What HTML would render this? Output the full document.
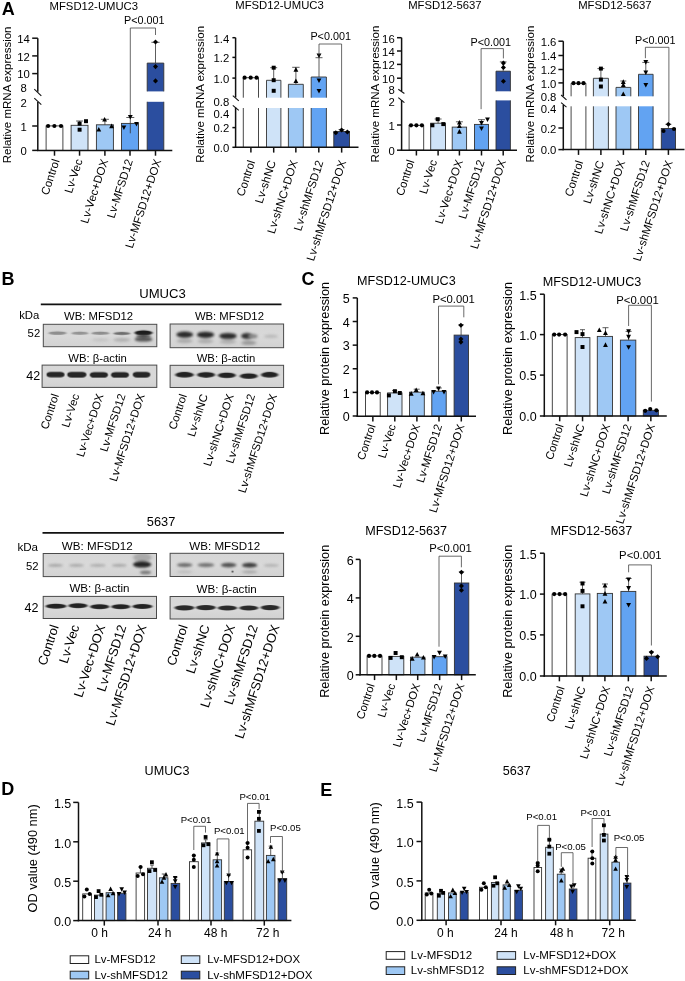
<!DOCTYPE html>
<html><head><meta charset="utf-8"><title>Figure</title>
<style>html,body{margin:0;padding:0;background:#fff;}svg{display:block;will-change:transform;}</style>
</head><body>
<svg width="685" height="981" viewBox="0 0 685 981" font-family='"Liberation Sans", sans-serif'>
<rect width="685" height="981" fill="#fff"/>
<text x="1.80" y="15.10" font-size="18" font-weight="bold">A</text>
<text x="1.50" y="284.90" font-size="18" font-weight="bold">B</text>
<text x="301.50" y="284.90" font-size="18" font-weight="bold">C</text>
<text x="1.30" y="794.90" font-size="18" font-weight="bold">D</text>
<text x="320.20" y="795.60" font-size="18" font-weight="bold">E</text>
<rect x="46.10" y="125.90" width="16.80" height="24.50" fill="#ffffff" stroke="#333" stroke-width="0.9"/>
<rect x="71.10" y="125.30" width="16.90" height="25.10" fill="#cfe3f8" stroke="#333" stroke-width="0.9"/>
<rect x="96.40" y="124.80" width="17.00" height="25.60" fill="#9ec8f4" stroke="#333" stroke-width="0.9"/>
<rect x="121.50" y="123.40" width="17.00" height="27.00" fill="#62a3f2" stroke="#333" stroke-width="0.9"/>
<rect x="147.20" y="63.10" width="16.60" height="28.30" fill="#2b4e9f"/>
<rect x="147.20" y="101.80" width="16.60" height="48.60" fill="#2b4e9f"/>
<polyline points="147.20,91.40 147.20,63.10 163.80,63.10 163.80,91.40" fill="none" stroke="#333" stroke-width="0.9"/>
<polyline points="147.20,101.80 147.20,150.40" fill="none" stroke="#333" stroke-width="0.9"/>
<polyline points="163.80,101.80 163.80,150.40" fill="none" stroke="#333" stroke-width="0.9"/>
<line x1="79.60" y1="125.30" x2="79.60" y2="121.00" stroke="#333" stroke-width="0.8"/>
<line x1="76.10" y1="121.00" x2="83.10" y2="121.00" stroke="#333" stroke-width="0.8"/>
<line x1="104.90" y1="124.80" x2="104.90" y2="119.30" stroke="#333" stroke-width="0.8"/>
<line x1="100.90" y1="119.30" x2="108.90" y2="119.30" stroke="#333" stroke-width="0.8"/>
<line x1="130.30" y1="133.30" x2="130.30" y2="117.50" stroke="#333" stroke-width="0.8"/>
<line x1="126.30" y1="117.50" x2="134.30" y2="117.50" stroke="#333" stroke-width="0.8"/>
<line x1="155.50" y1="63.10" x2="155.50" y2="42.30" stroke="#333" stroke-width="0.8"/>
<line x1="151.40" y1="42.30" x2="159.60" y2="42.30" stroke="#333" stroke-width="0.8"/>
<circle cx="48.10" cy="126.00" r="2.09" fill="#000"/>
<circle cx="54.40" cy="126.00" r="2.09" fill="#000"/>
<circle cx="61.00" cy="126.00" r="2.09" fill="#000"/>
<rect x="77.62" y="121.62" width="3.96" height="3.96" fill="#000"/>
<rect x="77.62" y="127.72" width="3.96" height="3.96" fill="#000"/>
<rect x="84.02" y="119.22" width="3.96" height="3.96" fill="#000"/>
<polygon points="96.38,131.51 101.22,131.51 98.80,126.89" fill="#000"/>
<polygon points="102.18,121.61 107.02,121.61 104.60,116.99" fill="#000"/>
<polygon points="109.18,128.21 114.02,128.21 111.60,123.59" fill="#000"/>
<polygon points="121.48,125.49 126.32,125.49 123.90,130.11" fill="#000"/>
<polygon points="127.88,114.99 132.72,114.99 130.30,119.61" fill="#000"/>
<polygon points="134.08,121.89 138.92,121.89 136.50,126.51" fill="#000"/>
<polygon points="155.50,39.47 158.03,42.00 155.50,44.53 152.97,42.00" fill="#000"/>
<polygon points="155.50,64.07 158.03,66.60 155.50,69.13 152.97,66.60" fill="#000"/>
<polygon points="155.50,78.37 158.03,80.90 155.50,83.43 152.97,80.90" fill="#000"/>
<line x1="37.80" y1="38.20" x2="37.80" y2="91.80" stroke="#111" stroke-width="1.5"/>
<line x1="37.80" y1="102.00" x2="37.80" y2="151.05" stroke="#111" stroke-width="1.5"/>
<line x1="34.30" y1="89.20" x2="41.30" y2="95.80" stroke="#111" stroke-width="1.1"/>
<line x1="34.30" y1="98.20" x2="41.30" y2="104.60" stroke="#111" stroke-width="1.1"/>
<line x1="37.05" y1="150.40" x2="172.30" y2="150.40" stroke="#111" stroke-width="1.5"/>
<line x1="32.20" y1="38.20" x2="37.80" y2="38.20" stroke="#111" stroke-width="1.5"/>
<text x="23.60" y="43.07" font-size="11.3" text-anchor="middle">14</text>
<line x1="32.20" y1="55.90" x2="37.80" y2="55.90" stroke="#111" stroke-width="1.5"/>
<text x="23.60" y="60.77" font-size="11.3" text-anchor="middle">12</text>
<line x1="32.20" y1="73.60" x2="37.80" y2="73.60" stroke="#111" stroke-width="1.5"/>
<text x="23.60" y="78.47" font-size="11.3" text-anchor="middle">10</text>
<text x="23.60" y="91.87" font-size="11.3" text-anchor="middle">8</text>
<text x="23.60" y="106.87" font-size="11.3" text-anchor="middle">2</text>
<line x1="32.20" y1="126.00" x2="37.80" y2="126.00" stroke="#111" stroke-width="1.5"/>
<text x="23.60" y="130.87" font-size="11.3" text-anchor="middle">1</text>
<line x1="32.20" y1="150.40" x2="37.80" y2="150.40" stroke="#111" stroke-width="1.5"/>
<text x="23.60" y="155.27" font-size="11.3" text-anchor="middle">0</text>
<line x1="54.50" y1="150.40" x2="54.50" y2="155.70" stroke="#111" stroke-width="1.5"/>
<line x1="79.55" y1="150.40" x2="79.55" y2="155.70" stroke="#111" stroke-width="1.5"/>
<line x1="104.90" y1="150.40" x2="104.90" y2="155.70" stroke="#111" stroke-width="1.5"/>
<line x1="130.00" y1="150.40" x2="130.00" y2="155.70" stroke="#111" stroke-width="1.5"/>
<line x1="155.50" y1="150.40" x2="155.50" y2="155.70" stroke="#111" stroke-width="1.5"/>
<polyline points="130.30,115.00 130.30,28.00 155.50,28.00 155.50,35.00" fill="none" stroke="#444" stroke-width="0.8"/>
<text x="144.30" y="24.00" font-size="10.8" text-anchor="middle">P&lt;0.001</text>
<text x="93.80" y="9.50" font-size="11.3" text-anchor="middle">MFSD12-UMUC3</text>
<text x="11.00" y="94.90" font-size="11.5" text-anchor="middle" transform="rotate(-90 11.00 94.90)">Relative mRNA expression</text>
<text x="59.70" y="160.60" font-size="11.5" text-anchor="end" transform="rotate(-72 59.70 160.60)">Control</text>
<text x="82.70" y="160.60" font-size="11.5" text-anchor="end" transform="rotate(-72 82.70 160.60)">Lv-Vec</text>
<text x="108.30" y="160.60" font-size="11.5" text-anchor="end" transform="rotate(-72 108.30 160.60)">Lv-Vec+DOX</text>
<text x="133.10" y="160.60" font-size="11.5" text-anchor="end" transform="rotate(-72 133.10 160.60)">Lv-MFSD12</text>
<text x="161.30" y="160.60" font-size="11.5" text-anchor="end" transform="rotate(-72 161.30 160.60)">Lv-MFSD12+DOX</text>
<rect x="243.30" y="77.70" width="15.20" height="20.00" fill="#ffffff"/>
<rect x="243.30" y="108.00" width="15.20" height="39.30" fill="#ffffff"/>
<polyline points="243.30,97.70 243.30,77.70 258.50,77.70 258.50,97.70" fill="none" stroke="#333" stroke-width="0.9"/>
<polyline points="243.30,108.00 243.30,147.30" fill="none" stroke="#333" stroke-width="0.9"/>
<polyline points="258.50,108.00 258.50,147.30" fill="none" stroke="#333" stroke-width="0.9"/>
<rect x="266.50" y="80.30" width="14.40" height="17.40" fill="#cfe3f8"/>
<rect x="266.50" y="108.00" width="14.40" height="39.30" fill="#cfe3f8"/>
<polyline points="266.50,97.70 266.50,80.30 280.90,80.30 280.90,97.70" fill="none" stroke="#333" stroke-width="0.9"/>
<polyline points="266.50,108.00 266.50,147.30" fill="none" stroke="#333" stroke-width="0.9"/>
<polyline points="280.90,108.00 280.90,147.30" fill="none" stroke="#333" stroke-width="0.9"/>
<rect x="288.40" y="84.30" width="14.90" height="13.40" fill="#9ec8f4"/>
<rect x="288.40" y="108.00" width="14.90" height="39.30" fill="#9ec8f4"/>
<polyline points="288.40,97.70 288.40,84.30 303.30,84.30 303.30,97.70" fill="none" stroke="#333" stroke-width="0.9"/>
<polyline points="288.40,108.00 288.40,147.30" fill="none" stroke="#333" stroke-width="0.9"/>
<polyline points="303.30,108.00 303.30,147.30" fill="none" stroke="#333" stroke-width="0.9"/>
<rect x="311.20" y="77.00" width="15.20" height="20.70" fill="#62a3f2"/>
<rect x="311.20" y="108.00" width="15.20" height="39.30" fill="#62a3f2"/>
<polyline points="311.20,97.70 311.20,77.00 326.40,77.00 326.40,97.70" fill="none" stroke="#333" stroke-width="0.9"/>
<polyline points="311.20,108.00 311.20,147.30" fill="none" stroke="#333" stroke-width="0.9"/>
<polyline points="326.40,108.00 326.40,147.30" fill="none" stroke="#333" stroke-width="0.9"/>
<rect x="333.80" y="131.50" width="15.70" height="15.80" fill="#2b4e9f" stroke="#333" stroke-width="0.9"/>
<line x1="273.70" y1="80.30" x2="273.70" y2="67.70" stroke="#333" stroke-width="0.8"/>
<line x1="270.20" y1="67.70" x2="277.20" y2="67.70" stroke="#333" stroke-width="0.8"/>
<line x1="295.90" y1="84.30" x2="295.90" y2="67.30" stroke="#333" stroke-width="0.8"/>
<line x1="292.20" y1="67.30" x2="299.60" y2="67.30" stroke="#333" stroke-width="0.8"/>
<line x1="319.00" y1="77.00" x2="319.00" y2="57.70" stroke="#333" stroke-width="0.8"/>
<line x1="315.50" y1="57.70" x2="322.50" y2="57.70" stroke="#333" stroke-width="0.8"/>
<line x1="341.60" y1="131.50" x2="341.60" y2="129.50" stroke="#333" stroke-width="0.8"/>
<line x1="338.60" y1="129.50" x2="344.60" y2="129.50" stroke="#333" stroke-width="0.8"/>
<circle cx="244.60" cy="77.70" r="2.09" fill="#000"/>
<circle cx="250.70" cy="77.70" r="2.09" fill="#000"/>
<circle cx="256.60" cy="77.70" r="2.09" fill="#000"/>
<rect x="271.72" y="65.72" width="3.96" height="3.96" fill="#000"/>
<rect x="271.72" y="78.22" width="3.96" height="3.96" fill="#000"/>
<rect x="271.72" y="88.82" width="3.96" height="3.96" fill="#000"/>
<polygon points="293.48,71.71 298.32,71.71 295.90,67.09" fill="#000"/>
<polygon points="293.48,83.11 298.32,83.11 295.90,78.49" fill="#000"/>
<polygon points="316.58,53.59 321.42,53.59 319.00,58.21" fill="#000"/>
<polygon points="316.58,78.49 321.42,78.49 319.00,83.11" fill="#000"/>
<polygon points="316.58,88.99 321.42,88.99 319.00,93.61" fill="#000"/>
<polygon points="335.80,130.27 338.33,132.80 335.80,135.33 333.27,132.80" fill="#000"/>
<polygon points="341.60,127.47 344.13,130.00 341.60,132.53 339.07,130.00" fill="#000"/>
<polygon points="347.40,129.47 349.93,132.00 347.40,134.53 344.87,132.00" fill="#000"/>
<line x1="235.60" y1="37.70" x2="235.60" y2="97.50" stroke="#111" stroke-width="1.5"/>
<line x1="235.60" y1="107.50" x2="235.60" y2="147.95" stroke="#111" stroke-width="1.5"/>
<line x1="232.80" y1="95.70" x2="238.80" y2="100.80" stroke="#111" stroke-width="1.1"/>
<line x1="232.80" y1="105.30" x2="238.80" y2="110.40" stroke="#111" stroke-width="1.1"/>
<line x1="234.85" y1="147.30" x2="358.50" y2="147.30" stroke="#111" stroke-width="1.5"/>
<line x1="232.40" y1="37.70" x2="235.60" y2="37.70" stroke="#111" stroke-width="1.5"/>
<text x="229.30" y="42.57" font-size="11.3" text-anchor="end">1.4</text>
<line x1="232.40" y1="57.40" x2="235.60" y2="57.40" stroke="#111" stroke-width="1.5"/>
<text x="229.30" y="62.27" font-size="11.3" text-anchor="end">1.2</text>
<line x1="232.40" y1="78.10" x2="235.60" y2="78.10" stroke="#111" stroke-width="1.5"/>
<text x="229.30" y="82.97" font-size="11.3" text-anchor="end">1.0</text>
<text x="229.30" y="106.07" font-size="11.3" text-anchor="end">0.8</text>
<text x="229.30" y="117.77" font-size="11.3" text-anchor="end">0.4</text>
<line x1="232.40" y1="127.60" x2="235.60" y2="127.60" stroke="#111" stroke-width="1.5"/>
<text x="229.30" y="132.47" font-size="11.3" text-anchor="end">0.2</text>
<line x1="232.40" y1="147.30" x2="235.60" y2="147.30" stroke="#111" stroke-width="1.5"/>
<text x="229.30" y="152.17" font-size="11.3" text-anchor="end">0.0</text>
<line x1="250.90" y1="147.30" x2="250.90" y2="152.60" stroke="#111" stroke-width="1.5"/>
<line x1="273.70" y1="147.30" x2="273.70" y2="152.60" stroke="#111" stroke-width="1.5"/>
<line x1="295.85" y1="147.30" x2="295.85" y2="152.60" stroke="#111" stroke-width="1.5"/>
<line x1="318.80" y1="147.30" x2="318.80" y2="152.60" stroke="#111" stroke-width="1.5"/>
<line x1="341.65" y1="147.30" x2="341.65" y2="152.60" stroke="#111" stroke-width="1.5"/>
<polyline points="319.00,55.40 319.00,44.00 341.60,44.00 341.60,128.00" fill="none" stroke="#444" stroke-width="0.8"/>
<text x="330.70" y="39.60" font-size="10.8" text-anchor="middle">P&lt;0.001</text>
<text x="279.50" y="9.40" font-size="11.3" text-anchor="middle">MFSD12-UMUC3</text>
<text x="204.20" y="94.30" font-size="11.5" text-anchor="middle" transform="rotate(-90 204.20 94.30)">Relative mRNA expression</text>
<text x="255.30" y="161.80" font-size="11.5" text-anchor="end" transform="rotate(-72 255.30 161.80)">Control</text>
<text x="276.10" y="161.80" font-size="11.5" text-anchor="end" transform="rotate(-72 276.10 161.80)">Lv-shNC</text>
<text x="298.00" y="161.80" font-size="11.5" text-anchor="end" transform="rotate(-72 298.00 161.80)">Lv-shNC+DOX</text>
<text x="323.60" y="161.80" font-size="11.5" text-anchor="end" transform="rotate(-72 323.60 161.80)">Lv-shMFSD12</text>
<text x="346.30" y="161.80" font-size="11.5" text-anchor="end" transform="rotate(-72 346.30 161.80)">Lv-shMFSD12+DOX</text>
<rect x="409.10" y="125.30" width="14.60" height="24.90" fill="#ffffff" stroke="#333" stroke-width="0.9"/>
<rect x="430.70" y="123.20" width="14.80" height="27.00" fill="#cfe3f8" stroke="#333" stroke-width="0.9"/>
<rect x="452.20" y="127.10" width="14.40" height="23.10" fill="#9ec8f4" stroke="#333" stroke-width="0.9"/>
<rect x="474.50" y="124.40" width="14.00" height="25.80" fill="#62a3f2" stroke="#333" stroke-width="0.9"/>
<rect x="496.00" y="71.20" width="14.40" height="20.10" fill="#2b4e9f"/>
<rect x="496.00" y="100.40" width="14.40" height="49.80" fill="#2b4e9f"/>
<polyline points="496.00,91.30 496.00,71.20 510.40,71.20 510.40,91.30" fill="none" stroke="#333" stroke-width="0.9"/>
<polyline points="496.00,100.40 496.00,150.20" fill="none" stroke="#333" stroke-width="0.9"/>
<polyline points="510.40,100.40 510.40,150.20" fill="none" stroke="#333" stroke-width="0.9"/>
<line x1="438.10" y1="123.20" x2="438.10" y2="119.00" stroke="#333" stroke-width="0.8"/>
<line x1="434.60" y1="119.00" x2="441.60" y2="119.00" stroke="#333" stroke-width="0.8"/>
<line x1="459.40" y1="127.10" x2="459.40" y2="121.80" stroke="#333" stroke-width="0.8"/>
<line x1="455.90" y1="121.80" x2="462.90" y2="121.80" stroke="#333" stroke-width="0.8"/>
<line x1="481.50" y1="124.40" x2="481.50" y2="119.70" stroke="#333" stroke-width="0.8"/>
<line x1="478.00" y1="119.70" x2="485.00" y2="119.70" stroke="#333" stroke-width="0.8"/>
<line x1="503.20" y1="71.20" x2="503.20" y2="61.90" stroke="#333" stroke-width="0.8"/>
<line x1="499.85" y1="61.90" x2="506.55" y2="61.90" stroke="#333" stroke-width="0.8"/>
<circle cx="411.00" cy="125.30" r="2.09" fill="#000"/>
<circle cx="416.40" cy="125.30" r="2.09" fill="#000"/>
<circle cx="421.90" cy="125.30" r="2.09" fill="#000"/>
<rect x="430.42" y="123.32" width="3.96" height="3.96" fill="#000"/>
<rect x="435.72" y="117.22" width="3.96" height="3.96" fill="#000"/>
<rect x="441.32" y="122.12" width="3.96" height="3.96" fill="#000"/>
<polygon points="456.98,124.61 461.82,124.61 459.40,119.99" fill="#000"/>
<polygon points="456.98,128.11 461.82,128.11 459.40,123.49" fill="#000"/>
<polygon points="456.98,133.71 461.82,133.71 459.40,129.09" fill="#000"/>
<polygon points="479.08,120.89 483.92,120.89 481.50,125.51" fill="#000"/>
<polygon points="479.08,126.49 483.92,126.49 481.50,131.11" fill="#000"/>
<polygon points="485.08,117.39 489.92,117.39 487.50,122.01" fill="#000"/>
<polygon points="503.40,60.57 505.93,63.10 503.40,65.63 500.87,63.10" fill="#000"/>
<polygon points="503.40,64.97 505.93,67.50 503.40,70.03 500.87,67.50" fill="#000"/>
<polygon points="503.40,78.67 505.93,81.20 503.40,83.73 500.87,81.20" fill="#000"/>
<line x1="401.60" y1="37.70" x2="401.60" y2="91.20" stroke="#111" stroke-width="1.5"/>
<line x1="401.60" y1="100.00" x2="401.60" y2="150.85" stroke="#111" stroke-width="1.5"/>
<line x1="398.30" y1="89.30" x2="404.40" y2="93.50" stroke="#111" stroke-width="1.1"/>
<line x1="398.30" y1="97.60" x2="404.40" y2="102.70" stroke="#111" stroke-width="1.1"/>
<line x1="400.85" y1="150.20" x2="517.00" y2="150.20" stroke="#111" stroke-width="1.5"/>
<line x1="397.00" y1="37.70" x2="401.60" y2="37.70" stroke="#111" stroke-width="1.5"/>
<text x="394.70" y="42.57" font-size="11.3" text-anchor="end">16</text>
<line x1="397.00" y1="51.00" x2="401.60" y2="51.00" stroke="#111" stroke-width="1.5"/>
<text x="394.70" y="55.87" font-size="11.3" text-anchor="end">14</text>
<line x1="397.00" y1="64.40" x2="401.60" y2="64.40" stroke="#111" stroke-width="1.5"/>
<text x="394.70" y="69.27" font-size="11.3" text-anchor="end">12</text>
<line x1="397.00" y1="78.20" x2="401.60" y2="78.20" stroke="#111" stroke-width="1.5"/>
<text x="394.70" y="83.07" font-size="11.3" text-anchor="end">10</text>
<text x="394.70" y="93.57" font-size="11.3" text-anchor="end">8</text>
<text x="394.70" y="106.27" font-size="11.3" text-anchor="end">2</text>
<line x1="397.00" y1="125.00" x2="401.60" y2="125.00" stroke="#111" stroke-width="1.5"/>
<text x="394.70" y="129.87" font-size="11.3" text-anchor="end">1</text>
<line x1="397.00" y1="150.20" x2="401.60" y2="150.20" stroke="#111" stroke-width="1.5"/>
<text x="394.70" y="155.07" font-size="11.3" text-anchor="end">0</text>
<line x1="416.40" y1="150.20" x2="416.40" y2="155.50" stroke="#111" stroke-width="1.5"/>
<line x1="438.10" y1="150.20" x2="438.10" y2="155.50" stroke="#111" stroke-width="1.5"/>
<line x1="459.40" y1="150.20" x2="459.40" y2="155.50" stroke="#111" stroke-width="1.5"/>
<line x1="481.50" y1="150.20" x2="481.50" y2="155.50" stroke="#111" stroke-width="1.5"/>
<line x1="503.20" y1="150.20" x2="503.20" y2="155.50" stroke="#111" stroke-width="1.5"/>
<polyline points="481.10,109.20 481.10,48.60 503.40,48.60 503.40,58.40" fill="none" stroke="#444" stroke-width="0.8"/>
<text x="490.80" y="46.00" font-size="10.8" text-anchor="middle">P&lt;0.001</text>
<text x="444.90" y="9.40" font-size="11.3" text-anchor="middle">MFSD12-5637</text>
<text x="379.20" y="94.00" font-size="11.5" text-anchor="middle" transform="rotate(-90 379.20 94.00)">Relative mRNA expression</text>
<text x="414.60" y="161.30" font-size="11.5" text-anchor="end" transform="rotate(-72 414.60 161.30)">Control</text>
<text x="437.30" y="161.30" font-size="11.5" text-anchor="end" transform="rotate(-72 437.30 161.30)">Lv-Vec</text>
<text x="463.00" y="161.30" font-size="11.5" text-anchor="end" transform="rotate(-72 463.00 161.30)">Lv-Vec+DOX</text>
<text x="484.80" y="161.30" font-size="11.5" text-anchor="end" transform="rotate(-72 484.80 161.30)">Lv-MFSD12</text>
<text x="506.20" y="161.30" font-size="11.5" text-anchor="end" transform="rotate(-72 506.20 161.30)">Lv-MFSD12+DOX</text>
<rect x="571.10" y="83.20" width="14.80" height="13.10" fill="#ffffff"/>
<rect x="571.10" y="106.30" width="14.80" height="43.30" fill="#ffffff"/>
<polyline points="571.10,96.30 571.10,83.20 585.90,83.20 585.90,96.30" fill="none" stroke="#333" stroke-width="0.9"/>
<polyline points="571.10,106.30 571.10,149.60" fill="none" stroke="#333" stroke-width="0.9"/>
<polyline points="585.90,106.30 585.90,149.60" fill="none" stroke="#333" stroke-width="0.9"/>
<rect x="593.40" y="78.30" width="15.00" height="18.00" fill="#cfe3f8"/>
<rect x="593.40" y="106.30" width="15.00" height="43.30" fill="#cfe3f8"/>
<polyline points="593.40,96.30 593.40,78.30 608.40,78.30 608.40,96.30" fill="none" stroke="#333" stroke-width="0.9"/>
<polyline points="593.40,106.30 593.40,149.60" fill="none" stroke="#333" stroke-width="0.9"/>
<polyline points="608.40,106.30 608.40,149.60" fill="none" stroke="#333" stroke-width="0.9"/>
<rect x="616.00" y="87.40" width="14.80" height="8.90" fill="#9ec8f4"/>
<rect x="616.00" y="106.30" width="14.80" height="43.30" fill="#9ec8f4"/>
<polyline points="616.00,96.30 616.00,87.40 630.80,87.40 630.80,96.30" fill="none" stroke="#333" stroke-width="0.9"/>
<polyline points="616.00,106.30 616.00,149.60" fill="none" stroke="#333" stroke-width="0.9"/>
<polyline points="630.80,106.30 630.80,149.60" fill="none" stroke="#333" stroke-width="0.9"/>
<rect x="638.50" y="74.30" width="14.60" height="22.00" fill="#62a3f2"/>
<rect x="638.50" y="106.30" width="14.60" height="43.30" fill="#62a3f2"/>
<polyline points="638.50,96.30 638.50,74.30 653.10,74.30 653.10,96.30" fill="none" stroke="#333" stroke-width="0.9"/>
<polyline points="638.50,106.30 638.50,149.60" fill="none" stroke="#333" stroke-width="0.9"/>
<polyline points="653.10,106.30 653.10,149.60" fill="none" stroke="#333" stroke-width="0.9"/>
<rect x="661.30" y="128.50" width="14.20" height="21.10" fill="#2b4e9f" stroke="#333" stroke-width="0.9"/>
<line x1="600.90" y1="78.30" x2="600.90" y2="68.60" stroke="#333" stroke-width="0.8"/>
<line x1="597.40" y1="68.60" x2="604.40" y2="68.60" stroke="#333" stroke-width="0.8"/>
<line x1="623.30" y1="87.40" x2="623.30" y2="81.00" stroke="#333" stroke-width="0.8"/>
<line x1="620.30" y1="81.00" x2="626.30" y2="81.00" stroke="#333" stroke-width="0.8"/>
<line x1="645.80" y1="74.30" x2="645.80" y2="62.40" stroke="#333" stroke-width="0.8"/>
<line x1="642.30" y1="62.40" x2="649.30" y2="62.40" stroke="#333" stroke-width="0.8"/>
<line x1="668.40" y1="128.50" x2="668.40" y2="124.30" stroke="#333" stroke-width="0.8"/>
<line x1="665.40" y1="124.30" x2="671.40" y2="124.30" stroke="#333" stroke-width="0.8"/>
<circle cx="573.50" cy="83.20" r="2.09" fill="#000"/>
<circle cx="578.50" cy="83.20" r="2.09" fill="#000"/>
<circle cx="583.50" cy="83.20" r="2.09" fill="#000"/>
<rect x="598.92" y="66.62" width="3.96" height="3.96" fill="#000"/>
<rect x="598.92" y="77.62" width="3.96" height="3.96" fill="#000"/>
<rect x="598.92" y="84.52" width="3.96" height="3.96" fill="#000"/>
<polygon points="620.88,83.91 625.72,83.91 623.30,79.29" fill="#000"/>
<polygon points="620.88,87.01 625.72,87.01 623.30,82.39" fill="#000"/>
<polygon points="620.88,96.11 625.72,96.11 623.30,91.49" fill="#000"/>
<polygon points="643.38,60.09 648.22,60.09 645.80,64.71" fill="#000"/>
<polygon points="643.38,70.49 648.22,70.49 645.80,75.11" fill="#000"/>
<polygon points="643.38,82.99 648.22,82.99 645.80,87.61" fill="#000"/>
<circle cx="663.50" cy="131.00" r="2.09" fill="#000"/>
<polygon points="668.40,121.77 670.93,124.30 668.40,126.83 665.87,124.30" fill="#000"/>
<circle cx="674.00" cy="129.00" r="2.09" fill="#000"/>
<line x1="563.30" y1="41.20" x2="563.30" y2="96.30" stroke="#111" stroke-width="1.5"/>
<line x1="563.30" y1="105.00" x2="563.30" y2="150.25" stroke="#111" stroke-width="1.5"/>
<line x1="561.10" y1="95.00" x2="566.50" y2="99.90" stroke="#111" stroke-width="1.1"/>
<line x1="561.10" y1="102.70" x2="566.50" y2="107.20" stroke="#111" stroke-width="1.1"/>
<line x1="562.55" y1="149.60" x2="684.50" y2="149.60" stroke="#111" stroke-width="1.5"/>
<line x1="558.40" y1="41.20" x2="563.30" y2="41.20" stroke="#111" stroke-width="1.5"/>
<text x="556.40" y="46.07" font-size="11.3" text-anchor="end">1.6</text>
<line x1="558.40" y1="55.50" x2="563.30" y2="55.50" stroke="#111" stroke-width="1.5"/>
<text x="556.40" y="60.37" font-size="11.3" text-anchor="end">1.4</text>
<line x1="558.40" y1="69.50" x2="563.30" y2="69.50" stroke="#111" stroke-width="1.5"/>
<text x="556.40" y="74.37" font-size="11.3" text-anchor="end">1.2</text>
<line x1="558.40" y1="82.90" x2="563.30" y2="82.90" stroke="#111" stroke-width="1.5"/>
<text x="556.40" y="87.77" font-size="11.3" text-anchor="end">1.0</text>
<text x="556.40" y="100.57" font-size="11.3" text-anchor="end">0.8</text>
<text x="556.40" y="113.27" font-size="11.3" text-anchor="end">0.4</text>
<line x1="558.40" y1="128.00" x2="563.30" y2="128.00" stroke="#111" stroke-width="1.5"/>
<text x="556.40" y="132.87" font-size="11.3" text-anchor="end">0.2</text>
<line x1="558.40" y1="149.60" x2="563.30" y2="149.60" stroke="#111" stroke-width="1.5"/>
<text x="556.40" y="154.47" font-size="11.3" text-anchor="end">0.0</text>
<line x1="578.50" y1="149.60" x2="578.50" y2="154.90" stroke="#111" stroke-width="1.5"/>
<line x1="600.90" y1="149.60" x2="600.90" y2="154.90" stroke="#111" stroke-width="1.5"/>
<line x1="623.40" y1="149.60" x2="623.40" y2="154.90" stroke="#111" stroke-width="1.5"/>
<line x1="645.80" y1="149.60" x2="645.80" y2="154.90" stroke="#111" stroke-width="1.5"/>
<line x1="668.40" y1="149.60" x2="668.40" y2="154.90" stroke="#111" stroke-width="1.5"/>
<polyline points="645.40,58.20 645.40,47.30 668.90,47.30 668.90,122.10" fill="none" stroke="#444" stroke-width="0.8"/>
<text x="655.30" y="44.00" font-size="10.8" text-anchor="middle">P&lt;0.001</text>
<text x="614.90" y="9.40" font-size="11.3" text-anchor="middle">MFSD12-5637</text>
<text x="533.50" y="94.00" font-size="11.5" text-anchor="middle" transform="rotate(-90 533.50 94.00)">Relative mRNA expression</text>
<text x="583.40" y="162.00" font-size="11.5" text-anchor="end" transform="rotate(-72 583.40 162.00)">Control</text>
<text x="604.40" y="162.00" font-size="11.5" text-anchor="end" transform="rotate(-72 604.40 162.00)">Lv-shNC</text>
<text x="625.40" y="162.00" font-size="11.5" text-anchor="end" transform="rotate(-72 625.40 162.00)">Lv-shNC+DOX</text>
<text x="650.00" y="162.00" font-size="11.5" text-anchor="end" transform="rotate(-72 650.00 162.00)">Lv-shMFSD12</text>
<text x="672.80" y="162.00" font-size="11.5" text-anchor="end" transform="rotate(-72 672.80 162.00)">Lv-shMFSD12+DOX</text>
<defs>
<filter id="bl0" x="-30%" y="-150%" width="160%" height="400%"><feGaussianBlur stdDeviation="0.6 0.5"/></filter>
<filter id="bl0e" x="-30%" y="-150%" width="160%" height="400%"><feGaussianBlur stdDeviation="0.8 0.6"/></filter>
<filter id="bl1" x="-30%" y="-150%" width="160%" height="400%"><feGaussianBlur stdDeviation="1.0 0.8"/></filter>
<filter id="bl2" x="-30%" y="-150%" width="160%" height="400%"><feGaussianBlur stdDeviation="1.6 1.2"/></filter>
<linearGradient id="gb" x1="0" y1="0" x2="0" y2="1"><stop offset="0" stop-color="#d6d6d6"/><stop offset="0.5" stop-color="#d9d9d9"/><stop offset="1" stop-color="#d2d2d2"/></linearGradient>
</defs>
<text x="162.50" y="298.20" font-size="13.1" text-anchor="middle">UMUC3</text>
<line x1="40.80" y1="304.40" x2="281.50" y2="304.40" stroke="#111" stroke-width="1.6"/>
<text x="19.20" y="319.20" font-size="11.3">kDa</text>
<text x="98.60" y="319.80" font-size="11.3" text-anchor="middle">WB: MFSD12</text>
<text x="229.40" y="320.20" font-size="11.3" text-anchor="middle">WB: MFSD12</text>
<text x="40.20" y="337.40" font-size="11.3" text-anchor="end">52</text>
<text x="97.60" y="362.00" font-size="11.3" text-anchor="middle">WB: β-actin</text>
<text x="226.00" y="362.40" font-size="11.3" text-anchor="middle">WB: β-actin</text>
<text x="40.20" y="379.90" font-size="12.5" text-anchor="end">42</text>
<rect x="43.30" y="324.30" width="113.50" height="22.40" fill="url(#gb)" stroke="#4a4a4a" stroke-width="1.0"/>
<svg x="43.80" y="324.80" width="112.50" height="21.40" overflow="hidden"><g transform="translate(-43.80,-324.80)">
<ellipse cx="57.50" cy="333.00" rx="9.00" ry="1.70" fill="#8e8e8e" filter="url(#bl0e)"/>
<ellipse cx="79.90" cy="333.20" rx="8.40" ry="1.70" fill="#939393" filter="url(#bl0e)"/>
<ellipse cx="100.40" cy="333.20" rx="8.90" ry="1.70" fill="#8c8c8c" filter="url(#bl0e)"/>
<ellipse cx="121.85" cy="333.40" rx="8.45" ry="1.70" fill="#6e6e6e" filter="url(#bl0e)"/>
<ellipse cx="100.50" cy="339.80" rx="8.50" ry="1.80" fill="#c4c4c4" filter="url(#bl2)"/>
<ellipse cx="121.85" cy="339.80" rx="8.45" ry="2.00" fill="#b2b2b2" filter="url(#bl2)"/>
<ellipse cx="143.50" cy="339.30" rx="9.00" ry="2.30" fill="#555" filter="url(#bl1)"/>
<ellipse cx="143.50" cy="332.80" rx="9.00" ry="2.50" fill="#1e1e1e" filter="url(#bl0e)"/>
<ellipse cx="143.50" cy="336.20" rx="7.50" ry="1.50" fill="#3a3a3a" filter="url(#bl1)"/>
</g></svg>
<rect x="42.10" y="365.10" width="114.70" height="22.30" fill="url(#gb)" stroke="#4a4a4a" stroke-width="1.0"/>
<svg x="42.60" y="365.60" width="113.70" height="21.30" overflow="hidden"><g transform="translate(-42.60,-365.60)">
<rect x="46.50" y="371.80" width="18.00" height="5.60" rx="4.48" ry="2.80" fill="#262626" filter="url(#bl0)"/>
<rect x="67.20" y="371.90" width="19.20" height="5.60" rx="4.48" ry="2.80" fill="#262626" filter="url(#bl0)"/>
<rect x="89.80" y="372.00" width="18.10" height="5.60" rx="4.48" ry="2.80" fill="#262626" filter="url(#bl0)"/>
<rect x="111.00" y="372.00" width="17.90" height="5.60" rx="4.48" ry="2.80" fill="#262626" filter="url(#bl0)"/>
<rect x="132.70" y="371.90" width="17.60" height="5.60" rx="4.48" ry="2.80" fill="#262626" filter="url(#bl0)"/>
</g></svg>
<rect x="170.10" y="324.00" width="113.50" height="23.70" fill="url(#gb)" stroke="#4a4a4a" stroke-width="1.0"/>
<svg x="170.60" y="324.50" width="112.50" height="22.70" overflow="hidden"><g transform="translate(-170.60,-324.50)">
<ellipse cx="184.65" cy="341.00" rx="8.15" ry="2.20" fill="#ababab" filter="url(#bl2)"/>
<ellipse cx="205.45" cy="341.20" rx="7.95" ry="2.20" fill="#adadad" filter="url(#bl2)"/>
<ellipse cx="227.95" cy="341.80" rx="8.25" ry="2.20" fill="#b0b0b0" filter="url(#bl2)"/>
<ellipse cx="248.75" cy="342.80" rx="7.45" ry="2.30" fill="#9a9a9a" filter="url(#bl2)"/>
<ellipse cx="184.70" cy="334.60" rx="8.50" ry="3.10" fill="#2a2a2a" filter="url(#bl1)"/>
<ellipse cx="205.50" cy="334.80" rx="8.50" ry="3.10" fill="#262626" filter="url(#bl1)"/>
<ellipse cx="227.95" cy="336.00" rx="8.75" ry="3.10" fill="#2a2a2a" filter="url(#bl1)"/>
<ellipse cx="246.75" cy="336.00" rx="5.75" ry="2.90" fill="#333" filter="url(#bl1)"/>
<ellipse cx="252.75" cy="336.20" rx="4.75" ry="2.20" fill="#888" filter="url(#bl1)"/>
<ellipse cx="271.00" cy="336.40" rx="7.00" ry="1.60" fill="#b8b8b8" filter="url(#bl1)"/>
</g></svg>
<rect x="170.10" y="365.30" width="113.50" height="22.20" fill="url(#gb)" stroke="#4a4a4a" stroke-width="1.0"/>
<svg x="170.60" y="365.80" width="112.50" height="21.20" overflow="hidden"><g transform="translate(-170.60,-365.80)">
<ellipse cx="184.45" cy="374.70" rx="9.35" ry="2.80" fill="#222" filter="url(#bl0e)"/>
<ellipse cx="206.05" cy="374.90" rx="9.05" ry="2.80" fill="#222" filter="url(#bl0e)"/>
<ellipse cx="226.80" cy="375.30" rx="9.00" ry="2.80" fill="#222" filter="url(#bl0e)"/>
<ellipse cx="248.70" cy="376.00" rx="9.00" ry="2.80" fill="#222" filter="url(#bl0e)"/>
<ellipse cx="269.60" cy="374.70" rx="8.70" ry="2.80" fill="#222" filter="url(#bl0e)"/>
</g></svg>
<text x="161.10" y="526.30" font-size="12.8" text-anchor="middle">5637</text>
<line x1="42.50" y1="532.90" x2="284.00" y2="532.90" stroke="#111" stroke-width="1.6"/>
<text x="17.40" y="551.40" font-size="11.600000000000001">kDa</text>
<text x="97.30" y="550.00" font-size="11.600000000000001" text-anchor="middle">WB: MFSD12</text>
<text x="224.70" y="549.80" font-size="11.600000000000001" text-anchor="middle">WB: MFSD12</text>
<text x="38.50" y="570.30" font-size="11.3" text-anchor="end">52</text>
<text x="99.50" y="592.30" font-size="11.600000000000001" text-anchor="middle">WB: β-actin</text>
<text x="226.60" y="592.60" font-size="11.600000000000001" text-anchor="middle">WB: β-actin</text>
<text x="38.50" y="612.20" font-size="12.5" text-anchor="end">42</text>
<rect x="43.20" y="553.50" width="113.30" height="23.10" fill="url(#gb)" stroke="#4a4a4a" stroke-width="1.0"/>
<svg x="43.70" y="554.00" width="112.30" height="22.10" overflow="hidden"><g transform="translate(-43.70,-554.00)">
<ellipse cx="55.35" cy="565.40" rx="7.45" ry="1.70" fill="#aaaaaa" filter="url(#bl1)"/>
<ellipse cx="76.35" cy="565.40" rx="7.45" ry="1.70" fill="#adadad" filter="url(#bl1)"/>
<ellipse cx="97.80" cy="565.40" rx="7.90" ry="1.70" fill="#b0b0b0" filter="url(#bl1)"/>
<ellipse cx="119.25" cy="565.40" rx="7.45" ry="1.70" fill="#ababab" filter="url(#bl1)"/>
<ellipse cx="142.25" cy="557.50" rx="9.25" ry="4.50" fill="#a9a9a9" filter="url(#bl2)"/>
<ellipse cx="145.50" cy="572.40" rx="5.50" ry="1.80" fill="#7a7a7a" filter="url(#bl1)"/>
<ellipse cx="142.05" cy="564.40" rx="9.15" ry="3.20" fill="#262626" filter="url(#bl1)"/>
</g></svg>
<rect x="43.20" y="596.40" width="113.30" height="22.10" fill="url(#gb)" stroke="#4a4a4a" stroke-width="1.0"/>
<svg x="43.70" y="596.90" width="112.30" height="21.10" overflow="hidden"><g transform="translate(-43.70,-596.90)">
<ellipse cx="56.00" cy="606.10" rx="10.40" ry="2.50" fill="#222" filter="url(#bl0e)"/>
<ellipse cx="77.95" cy="605.60" rx="9.55" ry="2.50" fill="#222" filter="url(#bl0e)"/>
<ellipse cx="99.60" cy="606.60" rx="9.60" ry="2.50" fill="#222" filter="url(#bl0e)"/>
<ellipse cx="120.75" cy="606.60" rx="9.45" ry="2.50" fill="#222" filter="url(#bl0e)"/>
<ellipse cx="142.35" cy="606.30" rx="9.95" ry="2.50" fill="#222" filter="url(#bl0e)"/>
</g></svg>
<rect x="170.10" y="553.30" width="113.50" height="23.20" fill="url(#gb)" stroke="#4a4a4a" stroke-width="1.0"/>
<svg x="170.60" y="553.80" width="112.50" height="22.20" overflow="hidden"><g transform="translate(-170.60,-553.80)">
<ellipse cx="184.65" cy="565.00" rx="7.75" ry="2.00" fill="#6a6a6a" filter="url(#bl1)"/>
<ellipse cx="205.90" cy="565.00" rx="8.40" ry="2.00" fill="#707070" filter="url(#bl1)"/>
<ellipse cx="228.60" cy="565.00" rx="7.90" ry="2.20" fill="#505050" filter="url(#bl1)"/>
<ellipse cx="249.60" cy="565.20" rx="7.60" ry="2.30" fill="#3c3c3c" filter="url(#bl1)"/>
<ellipse cx="271.25" cy="565.40" rx="7.75" ry="1.50" fill="#b4b4b4" filter="url(#bl1)"/>
<ellipse cx="184.65" cy="571.90" rx="7.75" ry="1.50" fill="#bdbdbd" filter="url(#bl2)"/>
<ellipse cx="249.60" cy="571.90" rx="7.60" ry="1.70" fill="#a8a8a8" filter="url(#bl2)"/>
<rect x="231.50" y="570.50" width="2.00" height="2.00" rx="1.60" ry="1.00" fill="#444" filter="url(#bl0)"/>
</g></svg>
<rect x="170.10" y="596.50" width="113.50" height="22.50" fill="url(#gb)" stroke="#4a4a4a" stroke-width="1.0"/>
<svg x="170.60" y="597.00" width="112.50" height="21.50" overflow="hidden"><g transform="translate(-170.60,-597.00)">
<ellipse cx="184.40" cy="607.80" rx="9.90" ry="2.60" fill="#2a2a2a" filter="url(#bl0e)"/>
<ellipse cx="205.80" cy="607.60" rx="9.90" ry="2.60" fill="#2a2a2a" filter="url(#bl0e)"/>
<ellipse cx="227.40" cy="608.00" rx="9.60" ry="2.60" fill="#2a2a2a" filter="url(#bl0e)"/>
<ellipse cx="248.75" cy="608.00" rx="9.45" ry="2.60" fill="#2a2a2a" filter="url(#bl0e)"/>
<ellipse cx="270.10" cy="607.60" rx="9.40" ry="2.60" fill="#2a2a2a" filter="url(#bl0e)"/>
</g></svg>
<text x="59.00" y="395.30" font-size="11.3" text-anchor="end" transform="rotate(-72 59.00 395.30)">Control</text>
<text x="79.50" y="395.30" font-size="11.3" text-anchor="end" transform="rotate(-72 79.50 395.30)">Lv-Vec</text>
<text x="103.70" y="395.30" font-size="11.3" text-anchor="end" transform="rotate(-72 103.70 395.30)">Lv-Vec+DOX</text>
<text x="125.60" y="395.30" font-size="11.3" text-anchor="end" transform="rotate(-72 125.60 395.30)">Lv-MFSD12</text>
<text x="144.80" y="395.30" font-size="11.3" text-anchor="end" transform="rotate(-72 144.80 395.30)">Lv-MFSD12+DOX</text>
<text x="187.00" y="395.60" font-size="11.3" text-anchor="end" transform="rotate(-72 187.00 395.60)">Control</text>
<text x="208.00" y="395.60" font-size="11.3" text-anchor="end" transform="rotate(-72 208.00 395.60)">Lv-shNC</text>
<text x="233.80" y="395.60" font-size="11.3" text-anchor="end" transform="rotate(-72 233.80 395.60)">Lv-shNC+DOX</text>
<text x="255.30" y="395.60" font-size="11.3" text-anchor="end" transform="rotate(-72 255.30 395.60)">Lv-shMFSD12</text>
<text x="277.20" y="395.60" font-size="11.3" text-anchor="end" transform="rotate(-72 277.20 395.60)">Lv-shMFSD12+DOX</text>
<text x="59.00" y="626.50" font-size="13" text-anchor="end" transform="rotate(-72 59.00 626.50)">Control</text>
<text x="79.50" y="626.50" font-size="13" text-anchor="end" transform="rotate(-72 79.50 626.50)">Lv-Vec</text>
<text x="105.40" y="626.50" font-size="13" text-anchor="end" transform="rotate(-72 105.40 626.50)">Lv-Vec+DOX</text>
<text x="126.40" y="626.50" font-size="13" text-anchor="end" transform="rotate(-72 126.40 626.50)">Lv-MFSD12</text>
<text x="146.60" y="626.50" font-size="13" text-anchor="end" transform="rotate(-72 146.60 626.50)">Lv-MFSD12+DOX</text>
<text x="187.90" y="626.50" font-size="13" text-anchor="end" transform="rotate(-72 187.90 626.50)">Control</text>
<text x="209.80" y="626.50" font-size="13" text-anchor="end" transform="rotate(-72 209.80 626.50)">Lv-shNC</text>
<text x="235.20" y="626.50" font-size="13" text-anchor="end" transform="rotate(-72 235.20 626.50)">Lv-shNC+DOX</text>
<text x="257.90" y="626.50" font-size="13" text-anchor="end" transform="rotate(-72 257.90 626.50)">Lv-shMFSD12</text>
<text x="279.80" y="626.50" font-size="13" text-anchor="end" transform="rotate(-72 279.80 626.50)">Lv-shMFSD12+DOX</text>
<rect x="365.50" y="392.40" width="14.70" height="23.80" fill="#ffffff" stroke="#333" stroke-width="0.9"/>
<rect x="387.60" y="392.90" width="14.40" height="23.30" fill="#cfe3f8" stroke="#333" stroke-width="0.9"/>
<rect x="409.50" y="392.20" width="14.80" height="24.00" fill="#9ec8f4" stroke="#333" stroke-width="0.9"/>
<rect x="431.80" y="391.20" width="14.40" height="25.00" fill="#62a3f2" stroke="#333" stroke-width="0.9"/>
<rect x="454.10" y="335.10" width="14.40" height="81.10" fill="#2b4e9f" stroke="#333" stroke-width="0.9"/>
<line x1="394.60" y1="392.90" x2="394.60" y2="390.50" stroke="#333" stroke-width="0.8"/>
<line x1="392.10" y1="390.50" x2="397.10" y2="390.50" stroke="#333" stroke-width="0.8"/>
<line x1="416.70" y1="392.20" x2="416.70" y2="389.20" stroke="#333" stroke-width="0.8"/>
<line x1="413.70" y1="389.20" x2="419.70" y2="389.20" stroke="#333" stroke-width="0.8"/>
<line x1="438.80" y1="391.20" x2="438.80" y2="388.00" stroke="#333" stroke-width="0.8"/>
<line x1="435.80" y1="388.00" x2="441.80" y2="388.00" stroke="#333" stroke-width="0.8"/>
<line x1="461.10" y1="335.10" x2="461.10" y2="324.70" stroke="#333" stroke-width="0.8"/>
<line x1="458.40" y1="324.70" x2="463.80" y2="324.70" stroke="#333" stroke-width="0.8"/>
<circle cx="367.10" cy="392.40" r="2.09" fill="#000"/>
<circle cx="372.00" cy="392.40" r="2.09" fill="#000"/>
<circle cx="377.00" cy="392.40" r="2.09" fill="#000"/>
<rect x="386.92" y="393.42" width="3.96" height="3.96" fill="#000"/>
<rect x="392.92" y="389.22" width="3.96" height="3.96" fill="#000"/>
<rect x="397.82" y="391.02" width="3.96" height="3.96" fill="#000"/>
<polygon points="408.78,395.71 413.62,395.71 411.20,391.09" fill="#000"/>
<polygon points="413.78,392.01 418.62,392.01 416.20,387.39" fill="#000"/>
<polygon points="420.48,395.31 425.32,395.31 422.90,390.69" fill="#000"/>
<polygon points="431.18,389.89 436.02,389.89 433.60,394.51" fill="#000"/>
<polygon points="436.08,386.39 440.92,386.39 438.50,391.01" fill="#000"/>
<polygon points="441.58,389.89 446.42,389.89 444.00,394.51" fill="#000"/>
<polygon points="460.90,322.67 463.43,325.20 460.90,327.73 458.37,325.20" fill="#000"/>
<polygon points="460.90,336.57 463.43,339.10 460.90,341.63 458.37,339.10" fill="#000"/>
<polygon points="460.90,339.57 463.43,342.10 460.90,344.63 458.37,342.10" fill="#000"/>
<line x1="357.30" y1="297.90" x2="357.30" y2="416.95" stroke="#111" stroke-width="1.5"/>
<line x1="356.55" y1="416.20" x2="476.00" y2="416.20" stroke="#111" stroke-width="1.5"/>
<line x1="352.70" y1="297.90" x2="357.30" y2="297.90" stroke="#111" stroke-width="1.5"/>
<text x="349.60" y="303.20" font-size="12.5" text-anchor="end">5</text>
<line x1="352.70" y1="321.52" x2="357.30" y2="321.52" stroke="#111" stroke-width="1.5"/>
<text x="349.60" y="326.82" font-size="12.5" text-anchor="end">4</text>
<line x1="352.70" y1="345.14" x2="357.30" y2="345.14" stroke="#111" stroke-width="1.5"/>
<text x="349.60" y="350.44" font-size="12.5" text-anchor="end">3</text>
<line x1="352.70" y1="368.76" x2="357.30" y2="368.76" stroke="#111" stroke-width="1.5"/>
<text x="349.60" y="374.06" font-size="12.5" text-anchor="end">2</text>
<line x1="352.70" y1="392.38" x2="357.30" y2="392.38" stroke="#111" stroke-width="1.5"/>
<text x="349.60" y="397.68" font-size="12.5" text-anchor="end">1</text>
<line x1="352.70" y1="416.00" x2="357.30" y2="416.00" stroke="#111" stroke-width="1.5"/>
<text x="349.60" y="421.30" font-size="12.5" text-anchor="end">0</text>
<line x1="372.85" y1="416.20" x2="372.85" y2="421.50" stroke="#111" stroke-width="1.5"/>
<line x1="394.80" y1="416.20" x2="394.80" y2="421.50" stroke="#111" stroke-width="1.5"/>
<line x1="416.90" y1="416.20" x2="416.90" y2="421.50" stroke="#111" stroke-width="1.5"/>
<line x1="439.00" y1="416.20" x2="439.00" y2="421.50" stroke="#111" stroke-width="1.5"/>
<line x1="461.30" y1="416.20" x2="461.30" y2="421.50" stroke="#111" stroke-width="1.5"/>
<polyline points="438.50,384.30 438.50,306.10 463.80,306.10 463.80,317.30" fill="none" stroke="#444" stroke-width="0.8"/>
<text x="453.60" y="302.90" font-size="11.3" text-anchor="middle">P&lt;0.001</text>
<text x="406.40" y="285.00" font-size="12.6" text-anchor="middle">MFSD12-UMUC3</text>
<text x="329.00" y="358.50" font-size="12.7" text-anchor="middle" transform="rotate(-90 329.00 358.50)">Relative protein expression</text>
<text x="375.70" y="425.80" font-size="11.4" text-anchor="end" transform="rotate(-72 375.70 425.80)">Control</text>
<text x="396.10" y="425.80" font-size="11.4" text-anchor="end" transform="rotate(-72 396.10 425.80)">Lv-Vec</text>
<text x="420.40" y="425.80" font-size="11.4" text-anchor="end" transform="rotate(-72 420.40 425.80)">Lv-Vec+DOX</text>
<text x="442.30" y="425.80" font-size="11.4" text-anchor="end" transform="rotate(-72 442.30 425.80)">Lv-MFSD12</text>
<text x="464.70" y="425.80" font-size="11.4" text-anchor="end" transform="rotate(-72 464.70 425.80)">Lv-MFSD12+DOX</text>
<rect x="552.30" y="334.60" width="14.80" height="81.40" fill="#ffffff" stroke="#333" stroke-width="0.9"/>
<rect x="575.20" y="337.60" width="14.70" height="78.40" fill="#cfe3f8" stroke="#333" stroke-width="0.9"/>
<rect x="597.30" y="336.40" width="15.20" height="79.60" fill="#9ec8f4" stroke="#333" stroke-width="0.9"/>
<rect x="620.40" y="340.10" width="15.40" height="75.90" fill="#62a3f2" stroke="#333" stroke-width="0.9"/>
<rect x="643.30" y="410.30" width="15.10" height="5.70" fill="#2b4e9f" stroke="#333" stroke-width="0.9"/>
<line x1="582.50" y1="337.60" x2="582.50" y2="329.70" stroke="#333" stroke-width="0.8"/>
<line x1="580.00" y1="329.70" x2="585.00" y2="329.70" stroke="#333" stroke-width="0.8"/>
<line x1="605.50" y1="336.40" x2="605.50" y2="327.70" stroke="#333" stroke-width="0.8"/>
<line x1="602.50" y1="327.70" x2="608.50" y2="327.70" stroke="#333" stroke-width="0.8"/>
<line x1="628.60" y1="340.10" x2="628.60" y2="331.40" stroke="#333" stroke-width="0.8"/>
<line x1="625.60" y1="331.40" x2="631.60" y2="331.40" stroke="#333" stroke-width="0.8"/>
<circle cx="554.20" cy="334.60" r="2.09" fill="#000"/>
<circle cx="559.10" cy="334.60" r="2.09" fill="#000"/>
<circle cx="565.10" cy="334.60" r="2.09" fill="#000"/>
<rect x="574.52" y="330.12" width="3.96" height="3.96" fill="#000"/>
<rect x="580.52" y="332.12" width="3.96" height="3.96" fill="#000"/>
<rect x="580.52" y="345.02" width="3.96" height="3.96" fill="#000"/>
<polygon points="596.88,332.01 601.72,332.01 599.30,327.39" fill="#000"/>
<polygon points="603.08,334.91 607.92,334.91 605.50,330.29" fill="#000"/>
<polygon points="603.08,346.91 607.92,346.91 605.50,342.29" fill="#000"/>
<polygon points="626.18,329.29 631.02,329.29 628.60,333.91" fill="#000"/>
<polygon points="626.18,334.79 631.02,334.79 628.60,339.41" fill="#000"/>
<polygon points="626.18,345.19 631.02,345.19 628.60,349.81" fill="#000"/>
<circle cx="645.20" cy="410.80" r="2.09" fill="#000"/>
<circle cx="650.20" cy="409.10" r="2.09" fill="#000"/>
<circle cx="656.40" cy="410.30" r="2.09" fill="#000"/>
<line x1="544.30" y1="294.20" x2="544.30" y2="416.75" stroke="#111" stroke-width="1.5"/>
<line x1="543.55" y1="416.00" x2="666.80" y2="416.00" stroke="#111" stroke-width="1.5"/>
<line x1="539.90" y1="294.20" x2="544.30" y2="294.20" stroke="#111" stroke-width="1.5"/>
<text x="536.60" y="299.50" font-size="12.5" text-anchor="end">1.5</text>
<line x1="539.90" y1="334.60" x2="544.30" y2="334.60" stroke="#111" stroke-width="1.5"/>
<text x="536.60" y="339.90" font-size="12.5" text-anchor="end">1.0</text>
<line x1="539.90" y1="375.10" x2="544.30" y2="375.10" stroke="#111" stroke-width="1.5"/>
<text x="536.60" y="380.40" font-size="12.5" text-anchor="end">0.5</text>
<line x1="539.90" y1="416.00" x2="544.30" y2="416.00" stroke="#111" stroke-width="1.5"/>
<text x="536.60" y="421.30" font-size="12.5" text-anchor="end">0.0</text>
<line x1="559.70" y1="416.00" x2="559.70" y2="421.30" stroke="#111" stroke-width="1.5"/>
<line x1="582.55" y1="416.00" x2="582.55" y2="421.30" stroke="#111" stroke-width="1.5"/>
<line x1="604.90" y1="416.00" x2="604.90" y2="421.30" stroke="#111" stroke-width="1.5"/>
<line x1="628.10" y1="416.00" x2="628.10" y2="421.30" stroke="#111" stroke-width="1.5"/>
<line x1="650.85" y1="416.00" x2="650.85" y2="421.30" stroke="#111" stroke-width="1.5"/>
<polyline points="628.60,326.00 628.60,305.30 651.40,305.30 651.40,401.60" fill="none" stroke="#444" stroke-width="0.8"/>
<text x="637.50" y="303.60" font-size="11.3" text-anchor="middle">P&lt;0.001</text>
<text x="592.00" y="286.00" font-size="12.6" text-anchor="middle">MFSD12-UMUC3</text>
<text x="512.20" y="358.50" font-size="12.7" text-anchor="middle" transform="rotate(-90 512.20 358.50)">Relative protein expression</text>
<text x="563.80" y="425.60" font-size="11.4" text-anchor="end" transform="rotate(-72 563.80 425.60)">Control</text>
<text x="584.80" y="425.60" font-size="11.4" text-anchor="end" transform="rotate(-72 584.80 425.60)">Lv-shNC</text>
<text x="610.40" y="425.60" font-size="11.4" text-anchor="end" transform="rotate(-72 610.40 425.60)">Lv-shNC+DOX</text>
<text x="631.70" y="425.60" font-size="11.4" text-anchor="end" transform="rotate(-72 631.70 425.60)">Lv-shMFSD12</text>
<text x="655.10" y="425.60" font-size="11.4" text-anchor="end" transform="rotate(-72 655.10 425.60)">Lv-shMFSD12+DOX</text>
<rect x="367.10" y="655.90" width="14.90" height="18.90" fill="#ffffff" stroke="#333" stroke-width="0.9"/>
<rect x="388.90" y="656.40" width="14.90" height="18.40" fill="#cfe3f8" stroke="#333" stroke-width="0.9"/>
<rect x="410.50" y="657.20" width="14.40" height="17.60" fill="#9ec8f4" stroke="#333" stroke-width="0.9"/>
<rect x="432.30" y="656.70" width="14.70" height="18.10" fill="#62a3f2" stroke="#333" stroke-width="0.9"/>
<rect x="454.40" y="583.00" width="14.40" height="91.80" fill="#2b4e9f" stroke="#333" stroke-width="0.9"/>
<line x1="461.50" y1="583.00" x2="461.50" y2="571.80" stroke="#333" stroke-width="0.8"/>
<line x1="458.80" y1="571.80" x2="464.20" y2="571.80" stroke="#333" stroke-width="0.8"/>
<circle cx="369.00" cy="655.90" r="2.09" fill="#000"/>
<circle cx="374.30" cy="655.90" r="2.09" fill="#000"/>
<circle cx="380.00" cy="655.90" r="2.09" fill="#000"/>
<rect x="388.62" y="655.92" width="3.96" height="3.96" fill="#000"/>
<rect x="393.62" y="651.02" width="3.96" height="3.96" fill="#000"/>
<rect x="399.82" y="655.22" width="3.96" height="3.96" fill="#000"/>
<polygon points="409.78,660.71 414.62,660.71 412.20,656.09" fill="#000"/>
<polygon points="414.78,656.51 419.62,656.51 417.20,651.89" fill="#000"/>
<polygon points="420.98,659.51 425.82,659.51 423.40,654.89" fill="#000"/>
<polygon points="431.68,654.89 436.52,654.89 434.10,659.51" fill="#000"/>
<polygon points="437.08,650.69 441.92,650.69 439.50,655.31" fill="#000"/>
<polygon points="442.78,654.39 447.62,654.39 445.20,659.01" fill="#000"/>
<polygon points="461.40,569.77 463.93,572.30 461.40,574.83 458.87,572.30" fill="#000"/>
<polygon points="461.40,583.37 463.93,585.90 461.40,588.43 458.87,585.90" fill="#000"/>
<polygon points="461.40,587.67 463.93,590.20 461.40,592.73 458.87,590.20" fill="#000"/>
<line x1="360.10" y1="559.40" x2="360.10" y2="675.55" stroke="#111" stroke-width="1.5"/>
<line x1="359.35" y1="674.80" x2="475.80" y2="674.80" stroke="#111" stroke-width="1.5"/>
<line x1="355.70" y1="559.40" x2="360.10" y2="559.40" stroke="#111" stroke-width="1.5"/>
<text x="353.60" y="564.70" font-size="12.5" text-anchor="end">6</text>
<line x1="355.70" y1="597.90" x2="360.10" y2="597.90" stroke="#111" stroke-width="1.5"/>
<text x="353.60" y="603.20" font-size="12.5" text-anchor="end">4</text>
<line x1="355.70" y1="636.30" x2="360.10" y2="636.30" stroke="#111" stroke-width="1.5"/>
<text x="353.60" y="641.60" font-size="12.5" text-anchor="end">2</text>
<line x1="355.70" y1="674.80" x2="360.10" y2="674.80" stroke="#111" stroke-width="1.5"/>
<text x="353.60" y="680.10" font-size="12.5" text-anchor="end">0</text>
<line x1="374.55" y1="674.80" x2="374.55" y2="680.10" stroke="#111" stroke-width="1.5"/>
<line x1="396.35" y1="674.80" x2="396.35" y2="680.10" stroke="#111" stroke-width="1.5"/>
<line x1="417.70" y1="674.80" x2="417.70" y2="680.10" stroke="#111" stroke-width="1.5"/>
<line x1="439.65" y1="674.80" x2="439.65" y2="680.10" stroke="#111" stroke-width="1.5"/>
<line x1="461.60" y1="674.80" x2="461.60" y2="680.10" stroke="#111" stroke-width="1.5"/>
<polyline points="439.00,646.70 439.00,556.20 461.40,556.20 461.40,567.30" fill="none" stroke="#444" stroke-width="0.8"/>
<text x="450.50" y="552.10" font-size="11.3" text-anchor="middle">P&lt;0.001</text>
<text x="406.10" y="534.80" font-size="12.6" text-anchor="middle">MFSD12-5637</text>
<text x="329.50" y="621.30" font-size="12.7" text-anchor="middle" transform="rotate(-90 329.50 621.30)">Relative protein expression</text>
<text x="374.80" y="685.10" font-size="11.4" text-anchor="end" transform="rotate(-72 374.80 685.10)">Control</text>
<text x="395.40" y="685.10" font-size="11.4" text-anchor="end" transform="rotate(-72 395.40 685.10)">Lv-Vec</text>
<text x="420.40" y="685.10" font-size="11.4" text-anchor="end" transform="rotate(-72 420.40 685.10)">Lv-Vec+DOX</text>
<text x="442.80" y="685.10" font-size="11.4" text-anchor="end" transform="rotate(-72 442.80 685.10)">Lv-MFSD12</text>
<text x="464.70" y="685.10" font-size="11.4" text-anchor="end" transform="rotate(-72 464.70 685.10)">Lv-MFSD12+DOX</text>
<rect x="552.10" y="594.10" width="14.60" height="81.90" fill="#ffffff" stroke="#333" stroke-width="0.9"/>
<rect x="575.20" y="593.90" width="14.70" height="82.10" fill="#cfe3f8" stroke="#333" stroke-width="0.9"/>
<rect x="597.30" y="593.40" width="15.20" height="82.60" fill="#9ec8f4" stroke="#333" stroke-width="0.9"/>
<rect x="620.90" y="591.40" width="14.90" height="84.60" fill="#62a3f2" stroke="#333" stroke-width="0.9"/>
<rect x="644.00" y="656.20" width="14.40" height="19.80" fill="#2b4e9f" stroke="#333" stroke-width="0.9"/>
<line x1="582.50" y1="593.90" x2="582.50" y2="582.20" stroke="#333" stroke-width="0.8"/>
<line x1="579.50" y1="582.20" x2="585.50" y2="582.20" stroke="#333" stroke-width="0.8"/>
<line x1="605.00" y1="593.40" x2="605.00" y2="584.00" stroke="#333" stroke-width="0.8"/>
<line x1="602.00" y1="584.00" x2="608.00" y2="584.00" stroke="#333" stroke-width="0.8"/>
<line x1="628.60" y1="591.40" x2="628.60" y2="578.50" stroke="#333" stroke-width="0.8"/>
<line x1="625.60" y1="578.50" x2="631.60" y2="578.50" stroke="#333" stroke-width="0.8"/>
<line x1="651.40" y1="656.20" x2="651.40" y2="651.70" stroke="#333" stroke-width="0.8"/>
<line x1="648.90" y1="651.70" x2="653.90" y2="651.70" stroke="#333" stroke-width="0.8"/>
<circle cx="554.20" cy="594.10" r="2.09" fill="#000"/>
<circle cx="559.60" cy="594.10" r="2.09" fill="#000"/>
<circle cx="565.10" cy="594.10" r="2.09" fill="#000"/>
<rect x="580.52" y="581.52" width="3.96" height="3.96" fill="#000"/>
<rect x="580.52" y="588.92" width="3.96" height="3.96" fill="#000"/>
<rect x="580.52" y="604.32" width="3.96" height="3.96" fill="#000"/>
<polygon points="602.58,587.51 607.42,587.51 605.00,582.89" fill="#000"/>
<polygon points="602.58,595.71 607.42,595.71 605.00,591.09" fill="#000"/>
<polygon points="602.58,603.61 607.42,603.61 605.00,598.99" fill="#000"/>
<polygon points="626.18,577.39 631.02,577.39 628.60,582.01" fill="#000"/>
<polygon points="626.18,586.09 631.02,586.09 628.60,590.71" fill="#000"/>
<polygon points="626.18,602.99 631.02,602.99 628.60,607.61" fill="#000"/>
<polygon points="646.50,655.87 649.03,658.40 646.50,660.93 643.97,658.40" fill="#000"/>
<polygon points="651.40,649.67 653.93,652.20 651.40,654.73 648.87,652.20" fill="#000"/>
<polygon points="657.60,654.17 660.13,656.70 657.60,659.23 655.07,656.70" fill="#000"/>
<line x1="544.30" y1="553.20" x2="544.30" y2="676.75" stroke="#111" stroke-width="1.5"/>
<line x1="543.55" y1="676.00" x2="666.80" y2="676.00" stroke="#111" stroke-width="1.5"/>
<line x1="539.90" y1="553.20" x2="544.30" y2="553.20" stroke="#111" stroke-width="1.5"/>
<text x="536.60" y="558.50" font-size="12.5" text-anchor="end">1.5</text>
<line x1="539.90" y1="594.10" x2="544.30" y2="594.10" stroke="#111" stroke-width="1.5"/>
<text x="536.60" y="599.40" font-size="12.5" text-anchor="end">1.0</text>
<line x1="539.90" y1="634.90" x2="544.30" y2="634.90" stroke="#111" stroke-width="1.5"/>
<text x="536.60" y="640.20" font-size="12.5" text-anchor="end">0.5</text>
<line x1="539.90" y1="676.00" x2="544.30" y2="676.00" stroke="#111" stroke-width="1.5"/>
<text x="536.60" y="681.30" font-size="12.5" text-anchor="end">0.0</text>
<line x1="559.40" y1="676.00" x2="559.40" y2="681.30" stroke="#111" stroke-width="1.5"/>
<line x1="582.55" y1="676.00" x2="582.55" y2="681.30" stroke="#111" stroke-width="1.5"/>
<line x1="604.90" y1="676.00" x2="604.90" y2="681.30" stroke="#111" stroke-width="1.5"/>
<line x1="628.35" y1="676.00" x2="628.35" y2="681.30" stroke="#111" stroke-width="1.5"/>
<line x1="651.20" y1="676.00" x2="651.20" y2="681.30" stroke="#111" stroke-width="1.5"/>
<polyline points="628.60,572.30 628.60,564.90 651.40,564.90 651.40,645.50" fill="none" stroke="#444" stroke-width="0.8"/>
<text x="640.30" y="559.40" font-size="11.3" text-anchor="middle">P&lt;0.001</text>
<text x="591.40" y="535.00" font-size="12.6" text-anchor="middle">MFSD12-5637</text>
<text x="512.20" y="621.30" font-size="12.7" text-anchor="middle" transform="rotate(-90 512.20 621.30)">Relative protein expression</text>
<text x="564.80" y="687.80" font-size="11.4" text-anchor="end" transform="rotate(-72 564.80 687.80)">Control</text>
<text x="585.70" y="687.80" font-size="11.4" text-anchor="end" transform="rotate(-72 585.70 687.80)">Lv-shNC</text>
<text x="610.40" y="687.80" font-size="11.4" text-anchor="end" transform="rotate(-72 610.40 687.80)">Lv-shNC+DOX</text>
<text x="633.60" y="687.80" font-size="11.4" text-anchor="end" transform="rotate(-72 633.60 687.80)">Lv-shMFSD12</text>
<text x="654.70" y="687.80" font-size="11.4" text-anchor="end" transform="rotate(-72 654.70 687.80)">Lv-shMFSD12+DOX</text>
<rect x="82.70" y="893.90" width="8.80" height="26.70" fill="#ffffff" stroke="#333" stroke-width="0.9"/>
<rect x="94.50" y="895.10" width="8.40" height="25.50" fill="#cfe3f8" stroke="#333" stroke-width="0.9"/>
<rect x="106.10" y="892.70" width="8.50" height="27.90" fill="#9ec8f4" stroke="#333" stroke-width="0.9"/>
<rect x="117.70" y="893.20" width="8.20" height="27.40" fill="#2b4e9f" stroke="#333" stroke-width="0.9"/>
<circle cx="84.40" cy="896.40" r="1.99" fill="#000"/>
<circle cx="86.80" cy="889.50" r="1.99" fill="#000"/>
<circle cx="89.70" cy="894.00" r="1.99" fill="#000"/>
<rect x="94.11" y="895.21" width="3.78" height="3.78" fill="#000"/>
<rect x="96.71" y="889.21" width="3.78" height="3.78" fill="#000"/>
<rect x="99.41" y="892.91" width="3.78" height="3.78" fill="#000"/>
<polygon points="105.89,897.31 110.51,897.31 108.20,892.89" fill="#000"/>
<polygon points="108.29,890.91 112.91,890.91 110.60,886.50" fill="#000"/>
<polygon points="110.69,895.21 115.31,895.21 113.00,890.79" fill="#000"/>
<polygon points="116.69,892.09 121.31,892.09 119.00,896.50" fill="#000"/>
<polygon points="119.39,887.29 124.01,887.29 121.70,891.71" fill="#000"/>
<polygon points="122.29,890.50 126.91,890.50 124.60,894.91" fill="#000"/>
<rect x="136.10" y="873.00" width="8.50" height="47.60" fill="#ffffff" stroke="#333" stroke-width="0.9"/>
<rect x="147.50" y="868.30" width="9.20" height="52.30" fill="#cfe3f8" stroke="#333" stroke-width="0.9"/>
<rect x="159.40" y="877.80" width="8.50" height="42.80" fill="#9ec8f4" stroke="#333" stroke-width="0.9"/>
<rect x="171.10" y="883.40" width="8.60" height="37.20" fill="#2b4e9f" stroke="#333" stroke-width="0.9"/>
<line x1="140.40" y1="873.00" x2="140.40" y2="867.00" stroke="#333" stroke-width="0.8"/>
<line x1="138.40" y1="867.00" x2="142.40" y2="867.00" stroke="#333" stroke-width="0.8"/>
<line x1="152.00" y1="868.30" x2="152.00" y2="865.00" stroke="#333" stroke-width="0.8"/>
<line x1="150.00" y1="865.00" x2="154.00" y2="865.00" stroke="#333" stroke-width="0.8"/>
<line x1="164.00" y1="877.80" x2="164.00" y2="874.00" stroke="#333" stroke-width="0.8"/>
<line x1="161.75" y1="874.00" x2="166.25" y2="874.00" stroke="#333" stroke-width="0.8"/>
<line x1="175.40" y1="883.40" x2="175.40" y2="877.50" stroke="#333" stroke-width="0.8"/>
<line x1="173.40" y1="877.50" x2="177.40" y2="877.50" stroke="#333" stroke-width="0.8"/>
<circle cx="137.70" cy="875.90" r="1.99" fill="#000"/>
<circle cx="140.60" cy="867.00" r="1.99" fill="#000"/>
<circle cx="143.00" cy="874.30" r="1.99" fill="#000"/>
<rect x="147.61" y="869.21" width="3.78" height="3.78" fill="#000"/>
<rect x="150.01" y="860.31" width="3.78" height="3.78" fill="#000"/>
<rect x="153.21" y="868.11" width="3.78" height="3.78" fill="#000"/>
<polygon points="159.69,883.71 164.31,883.71 162.00,879.29" fill="#000"/>
<polygon points="161.59,879.71 166.21,879.71 163.90,875.29" fill="#000"/>
<polygon points="163.69,876.50 168.31,876.50 166.00,872.09" fill="#000"/>
<polygon points="172.89,876.09 177.51,876.09 175.20,880.50" fill="#000"/>
<polygon points="172.89,884.89 177.51,884.89 175.20,889.31" fill="#000"/>
<polygon points="172.89,879.29 177.51,879.29 175.20,883.71" fill="#000"/>
<rect x="189.50" y="861.70" width="8.80" height="58.90" fill="#ffffff" stroke="#333" stroke-width="0.9"/>
<rect x="201.50" y="842.90" width="8.40" height="77.70" fill="#cfe3f8" stroke="#333" stroke-width="0.9"/>
<rect x="213.10" y="859.80" width="8.50" height="60.80" fill="#9ec8f4" stroke="#333" stroke-width="0.9"/>
<rect x="224.30" y="881.50" width="8.60" height="39.10" fill="#2b4e9f" stroke="#333" stroke-width="0.9"/>
<line x1="193.90" y1="861.70" x2="193.90" y2="855.40" stroke="#333" stroke-width="0.8"/>
<line x1="191.90" y1="855.40" x2="195.90" y2="855.40" stroke="#333" stroke-width="0.8"/>
<line x1="205.70" y1="842.90" x2="205.70" y2="839.70" stroke="#333" stroke-width="0.8"/>
<line x1="203.70" y1="839.70" x2="207.70" y2="839.70" stroke="#333" stroke-width="0.8"/>
<line x1="217.30" y1="859.80" x2="217.30" y2="853.00" stroke="#333" stroke-width="0.8"/>
<line x1="215.30" y1="853.00" x2="219.30" y2="853.00" stroke="#333" stroke-width="0.8"/>
<line x1="228.60" y1="881.50" x2="228.60" y2="875.50" stroke="#333" stroke-width="0.8"/>
<line x1="226.60" y1="875.50" x2="230.60" y2="875.50" stroke="#333" stroke-width="0.8"/>
<circle cx="193.80" cy="855.40" r="1.99" fill="#000"/>
<circle cx="193.80" cy="859.80" r="1.99" fill="#000"/>
<circle cx="193.80" cy="867.00" r="1.99" fill="#000"/>
<rect x="201.61" y="843.41" width="3.78" height="3.78" fill="#000"/>
<rect x="203.71" y="835.11" width="3.78" height="3.78" fill="#000"/>
<rect x="206.41" y="842.31" width="3.78" height="3.78" fill="#000"/>
<polygon points="214.79,855.61 219.41,855.61 217.10,851.19" fill="#000"/>
<polygon points="214.79,863.31 219.41,863.31 217.10,858.89" fill="#000"/>
<polygon points="214.79,867.61 219.41,867.61 217.10,863.19" fill="#000"/>
<polygon points="224.09,880.89 228.71,880.89 226.40,885.31" fill="#000"/>
<polygon points="226.39,873.59 231.01,873.59 228.70,878.00" fill="#000"/>
<polygon points="229.29,880.89 233.91,880.89 231.60,885.31" fill="#000"/>
<rect x="243.10" y="849.80" width="8.50" height="70.80" fill="#ffffff" stroke="#333" stroke-width="0.9"/>
<rect x="254.90" y="821.20" width="8.80" height="99.40" fill="#cfe3f8" stroke="#333" stroke-width="0.9"/>
<rect x="266.40" y="855.40" width="8.50" height="65.20" fill="#9ec8f4" stroke="#333" stroke-width="0.9"/>
<rect x="278.10" y="878.70" width="8.60" height="41.90" fill="#2b4e9f" stroke="#333" stroke-width="0.9"/>
<line x1="247.40" y1="849.80" x2="247.40" y2="842.90" stroke="#333" stroke-width="0.8"/>
<line x1="245.40" y1="842.90" x2="249.40" y2="842.90" stroke="#333" stroke-width="0.8"/>
<line x1="259.30" y1="821.20" x2="259.30" y2="811.00" stroke="#333" stroke-width="0.8"/>
<line x1="257.30" y1="811.00" x2="261.30" y2="811.00" stroke="#333" stroke-width="0.8"/>
<line x1="270.70" y1="855.40" x2="270.70" y2="846.10" stroke="#333" stroke-width="0.8"/>
<line x1="268.70" y1="846.10" x2="272.70" y2="846.10" stroke="#333" stroke-width="0.8"/>
<line x1="282.40" y1="878.70" x2="282.40" y2="872.60" stroke="#333" stroke-width="0.8"/>
<line x1="280.40" y1="872.60" x2="284.40" y2="872.60" stroke="#333" stroke-width="0.8"/>
<circle cx="247.60" cy="842.90" r="1.99" fill="#000"/>
<circle cx="247.60" cy="847.70" r="1.99" fill="#000"/>
<circle cx="247.60" cy="857.40" r="1.99" fill="#000"/>
<rect x="257.01" y="810.01" width="3.78" height="3.78" fill="#000"/>
<rect x="257.01" y="816.91" width="3.78" height="3.78" fill="#000"/>
<rect x="257.01" y="829.01" width="3.78" height="3.78" fill="#000"/>
<polygon points="265.89,863.31 270.51,863.31 268.20,858.89" fill="#000"/>
<polygon points="268.59,848.81 273.21,848.81 270.90,844.39" fill="#000"/>
<polygon points="270.99,861.21 275.61,861.21 273.30,856.79" fill="#000"/>
<polygon points="277.39,878.50 282.01,878.50 279.70,882.91" fill="#000"/>
<polygon points="279.89,870.39 284.51,870.39 282.20,874.81" fill="#000"/>
<polygon points="282.59,878.50 287.21,878.50 284.90,882.91" fill="#000"/>
<line x1="78.50" y1="802.40" x2="78.50" y2="921.35" stroke="#111" stroke-width="1.5"/>
<line x1="77.75" y1="920.60" x2="291.40" y2="920.60" stroke="#111" stroke-width="1.5"/>
<line x1="73.20" y1="802.40" x2="78.50" y2="802.40" stroke="#111" stroke-width="1.5"/>
<text x="71.30" y="808.20" font-size="12.5" text-anchor="end">1.5</text>
<line x1="73.20" y1="841.80" x2="78.50" y2="841.80" stroke="#111" stroke-width="1.5"/>
<text x="71.30" y="847.60" font-size="12.5" text-anchor="end">1.0</text>
<line x1="73.20" y1="881.20" x2="78.50" y2="881.20" stroke="#111" stroke-width="1.5"/>
<text x="71.30" y="887.00" font-size="12.5" text-anchor="end">0.5</text>
<line x1="73.20" y1="920.60" x2="78.50" y2="920.60" stroke="#111" stroke-width="1.5"/>
<text x="71.30" y="926.40" font-size="12.5" text-anchor="end">0.0</text>
<line x1="104.30" y1="920.60" x2="104.30" y2="925.60" stroke="#111" stroke-width="1.5"/>
<line x1="158.00" y1="920.60" x2="158.00" y2="925.60" stroke="#111" stroke-width="1.5"/>
<line x1="211.00" y1="920.60" x2="211.00" y2="925.60" stroke="#111" stroke-width="1.5"/>
<line x1="264.30" y1="920.60" x2="264.30" y2="925.60" stroke="#111" stroke-width="1.5"/>
<text x="99.60" y="936.60" font-size="12" text-anchor="middle">0 h</text>
<text x="159.70" y="936.60" font-size="12" text-anchor="middle">24 h</text>
<text x="215.80" y="936.60" font-size="12" text-anchor="middle">48 h</text>
<text x="267.70" y="936.60" font-size="12" text-anchor="middle">72 h</text>
<polyline points="193.80,850.00 193.80,826.30 205.50,826.30 205.50,832.60" fill="none" stroke="#444" stroke-width="0.8"/>
<polyline points="217.10,851.00 217.10,838.90 228.90,838.90 228.90,874.60" fill="none" stroke="#444" stroke-width="0.8"/>
<polyline points="247.50,841.20 247.50,803.40 259.10,803.40 259.10,809.20" fill="none" stroke="#444" stroke-width="0.8"/>
<polyline points="270.50,843.00 270.50,836.50 282.40,836.50 282.40,872.30" fill="none" stroke="#444" stroke-width="0.8"/>
<text x="196.00" y="822.80" font-size="9.6" text-anchor="middle">P&lt;0.01</text>
<text x="229.30" y="833.70" font-size="9.6" text-anchor="middle">P&lt;0.01</text>
<text x="254.80" y="799.90" font-size="9.6" text-anchor="middle">P&lt;0.01</text>
<text x="285.40" y="831.00" font-size="9.6" text-anchor="middle">P&lt;0.05</text>
<text x="167.00" y="775.30" font-size="12.6" text-anchor="middle">UMUC3</text>
<text x="37.50" y="858.40" font-size="12.8" text-anchor="middle" transform="rotate(-90 37.50 858.40)">OD value (490 nm)</text>
<rect x="425.20" y="892.90" width="7.70" height="27.40" fill="#ffffff" stroke="#333" stroke-width="0.9"/>
<rect x="437.30" y="893.40" width="7.20" height="26.90" fill="#cfe3f8" stroke="#333" stroke-width="0.9"/>
<rect x="448.50" y="892.90" width="7.70" height="27.40" fill="#9ec8f4" stroke="#333" stroke-width="0.9"/>
<rect x="460.20" y="892.10" width="7.90" height="28.20" fill="#2b4e9f" stroke="#333" stroke-width="0.9"/>
<circle cx="426.80" cy="894.50" r="1.99" fill="#000"/>
<circle cx="429.20" cy="889.70" r="1.99" fill="#000"/>
<circle cx="431.30" cy="893.40" r="1.99" fill="#000"/>
<rect x="437.01" y="893.81" width="3.78" height="3.78" fill="#000"/>
<rect x="439.11" y="888.91" width="3.78" height="3.78" fill="#000"/>
<rect x="441.31" y="891.01" width="3.78" height="3.78" fill="#000"/>
<polygon points="448.29,898.31 452.91,898.31 450.60,893.89" fill="#000"/>
<polygon points="450.49,891.91 455.11,891.91 452.80,887.50" fill="#000"/>
<polygon points="452.59,895.11 457.21,895.11 454.90,890.69" fill="#000"/>
<polygon points="459.79,890.69 464.41,890.69 462.10,895.11" fill="#000"/>
<polygon points="461.89,886.69 466.51,886.69 464.20,891.11" fill="#000"/>
<polygon points="464.29,889.89 468.91,889.89 466.60,894.31" fill="#000"/>
<rect x="479.50" y="887.30" width="8.00" height="33.00" fill="#ffffff" stroke="#333" stroke-width="0.9"/>
<rect x="491.40" y="882.50" width="7.40" height="37.80" fill="#cfe3f8" stroke="#333" stroke-width="0.9"/>
<rect x="503.10" y="884.90" width="7.20" height="35.40" fill="#9ec8f4" stroke="#333" stroke-width="0.9"/>
<rect x="514.80" y="890.20" width="7.60" height="30.10" fill="#2b4e9f" stroke="#333" stroke-width="0.9"/>
<circle cx="481.40" cy="889.70" r="1.99" fill="#000"/>
<circle cx="483.80" cy="883.30" r="1.99" fill="#000"/>
<circle cx="485.80" cy="887.30" r="1.99" fill="#000"/>
<rect x="491.61" y="883.81" width="3.78" height="3.78" fill="#000"/>
<rect x="493.21" y="875.41" width="3.78" height="3.78" fill="#000"/>
<rect x="495.31" y="881.41" width="3.78" height="3.78" fill="#000"/>
<polygon points="502.39,889.81 507.01,889.81 504.70,885.39" fill="#000"/>
<polygon points="504.79,883.41 509.41,883.41 507.10,879.00" fill="#000"/>
<polygon points="506.89,887.11 511.51,887.11 509.20,882.69" fill="#000"/>
<polygon points="514.39,889.89 519.01,889.89 516.70,894.31" fill="#000"/>
<polygon points="516.09,884.29 520.71,884.29 518.40,888.71" fill="#000"/>
<polygon points="518.49,886.69 523.11,886.69 520.80,891.11" fill="#000"/>
<rect x="534.00" y="867.50" width="7.60" height="52.80" fill="#ffffff" stroke="#333" stroke-width="0.9"/>
<rect x="545.60" y="847.30" width="7.70" height="73.00" fill="#cfe3f8" stroke="#333" stroke-width="0.9"/>
<rect x="557.30" y="874.20" width="7.70" height="46.10" fill="#9ec8f4" stroke="#333" stroke-width="0.9"/>
<rect x="569.30" y="889.00" width="7.60" height="31.30" fill="#2b4e9f" stroke="#333" stroke-width="0.9"/>
<line x1="537.80" y1="867.50" x2="537.80" y2="863.00" stroke="#333" stroke-width="0.8"/>
<line x1="535.80" y1="863.00" x2="539.80" y2="863.00" stroke="#333" stroke-width="0.8"/>
<line x1="549.40" y1="847.30" x2="549.40" y2="839.70" stroke="#333" stroke-width="0.8"/>
<line x1="547.40" y1="839.70" x2="551.40" y2="839.70" stroke="#333" stroke-width="0.8"/>
<line x1="561.20" y1="874.20" x2="561.20" y2="869.10" stroke="#333" stroke-width="0.8"/>
<line x1="559.20" y1="869.10" x2="563.20" y2="869.10" stroke="#333" stroke-width="0.8"/>
<line x1="573.00" y1="889.00" x2="573.00" y2="885.50" stroke="#333" stroke-width="0.8"/>
<line x1="571.00" y1="885.50" x2="575.00" y2="885.50" stroke="#333" stroke-width="0.8"/>
<circle cx="537.70" cy="863.00" r="1.99" fill="#000"/>
<circle cx="537.70" cy="865.40" r="1.99" fill="#000"/>
<circle cx="537.70" cy="871.30" r="1.99" fill="#000"/>
<rect x="547.41" y="837.81" width="3.78" height="3.78" fill="#000"/>
<rect x="547.41" y="844.71" width="3.78" height="3.78" fill="#000"/>
<rect x="547.41" y="851.81" width="3.78" height="3.78" fill="#000"/>
<polygon points="558.99,872.41 563.61,872.41 561.30,868.00" fill="#000"/>
<polygon points="558.99,882.50 563.61,882.50 561.30,878.09" fill="#000"/>
<polygon points="560.59,870.81 565.21,870.81 562.90,866.39" fill="#000"/>
<polygon points="569.09,884.59 573.71,884.59 571.40,889.00" fill="#000"/>
<polygon points="570.29,889.69 574.91,889.69 572.60,894.11" fill="#000"/>
<polygon points="571.89,883.29 576.51,883.29 574.20,887.71" fill="#000"/>
<rect x="588.10" y="858.20" width="7.70" height="62.10" fill="#ffffff" stroke="#333" stroke-width="0.9"/>
<rect x="600.20" y="834.10" width="7.70" height="86.20" fill="#cfe3f8" stroke="#333" stroke-width="0.9"/>
<rect x="611.90" y="862.20" width="7.50" height="58.10" fill="#9ec8f4" stroke="#333" stroke-width="0.9"/>
<rect x="623.50" y="883.10" width="7.40" height="37.20" fill="#2b4e9f" stroke="#333" stroke-width="0.9"/>
<line x1="592.00" y1="858.20" x2="592.00" y2="851.40" stroke="#333" stroke-width="0.8"/>
<line x1="590.00" y1="851.40" x2="594.00" y2="851.40" stroke="#333" stroke-width="0.8"/>
<line x1="604.00" y1="834.10" x2="604.00" y2="825.30" stroke="#333" stroke-width="0.8"/>
<line x1="602.00" y1="825.30" x2="606.00" y2="825.30" stroke="#333" stroke-width="0.8"/>
<line x1="615.70" y1="862.20" x2="615.70" y2="856.60" stroke="#333" stroke-width="0.8"/>
<line x1="613.70" y1="856.60" x2="617.70" y2="856.60" stroke="#333" stroke-width="0.8"/>
<line x1="627.20" y1="883.10" x2="627.20" y2="876.60" stroke="#333" stroke-width="0.8"/>
<line x1="625.20" y1="876.60" x2="629.20" y2="876.60" stroke="#333" stroke-width="0.8"/>
<circle cx="592.30" cy="851.40" r="1.99" fill="#000"/>
<circle cx="592.30" cy="858.20" r="1.99" fill="#000"/>
<circle cx="592.30" cy="863.50" r="1.99" fill="#000"/>
<rect x="602.01" y="823.41" width="3.78" height="3.78" fill="#000"/>
<rect x="602.01" y="833.01" width="3.78" height="3.78" fill="#000"/>
<rect x="602.01" y="838.61" width="3.78" height="3.78" fill="#000"/>
<polygon points="613.29,858.81 617.91,858.81 615.60,854.39" fill="#000"/>
<polygon points="613.29,862.00 617.91,862.00 615.60,857.59" fill="#000"/>
<polygon points="613.29,870.81 617.91,870.81 615.60,866.39" fill="#000"/>
<polygon points="624.49,874.89 629.11,874.89 626.80,879.31" fill="#000"/>
<polygon points="624.49,878.09 629.11,878.09 626.80,882.50" fill="#000"/>
<polygon points="624.49,884.89 629.11,884.89 626.80,889.31" fill="#000"/>
<line x1="421.80" y1="802.10" x2="421.80" y2="921.05" stroke="#111" stroke-width="1.5"/>
<line x1="421.05" y1="920.30" x2="635.80" y2="920.30" stroke="#111" stroke-width="1.5"/>
<line x1="416.50" y1="802.10" x2="421.80" y2="802.10" stroke="#111" stroke-width="1.5"/>
<text x="413.60" y="807.90" font-size="12.5" text-anchor="end">1.5</text>
<line x1="416.50" y1="841.50" x2="421.80" y2="841.50" stroke="#111" stroke-width="1.5"/>
<text x="413.60" y="847.30" font-size="12.5" text-anchor="end">1.0</text>
<line x1="416.50" y1="880.90" x2="421.80" y2="880.90" stroke="#111" stroke-width="1.5"/>
<text x="413.60" y="886.70" font-size="12.5" text-anchor="end">0.5</text>
<line x1="416.50" y1="920.30" x2="421.80" y2="920.30" stroke="#111" stroke-width="1.5"/>
<text x="413.60" y="926.10" font-size="12.5" text-anchor="end">0.0</text>
<line x1="446.10" y1="920.30" x2="446.10" y2="925.30" stroke="#111" stroke-width="1.5"/>
<line x1="501.00" y1="920.30" x2="501.00" y2="925.30" stroke="#111" stroke-width="1.5"/>
<line x1="555.60" y1="920.30" x2="555.60" y2="925.30" stroke="#111" stroke-width="1.5"/>
<line x1="609.70" y1="920.30" x2="609.70" y2="925.30" stroke="#111" stroke-width="1.5"/>
<text x="445.40" y="936.60" font-size="12" text-anchor="middle">0 h</text>
<text x="506.00" y="936.60" font-size="12" text-anchor="middle">24 h</text>
<text x="561.80" y="936.60" font-size="12" text-anchor="middle">48 h</text>
<text x="613.20" y="936.60" font-size="12" text-anchor="middle">72 h</text>
<polyline points="537.70,861.90 537.70,825.40 549.40,825.40 549.40,838.30" fill="none" stroke="#444" stroke-width="0.8"/>
<polyline points="561.30,866.80 561.30,852.70 573.00,852.70 573.00,884.20" fill="none" stroke="#444" stroke-width="0.8"/>
<polyline points="592.10,847.00 592.10,818.50 604.00,818.50 604.00,823.40" fill="none" stroke="#444" stroke-width="0.8"/>
<polyline points="615.90,857.00 615.90,847.50 627.60,847.50 627.60,875.50" fill="none" stroke="#444" stroke-width="0.8"/>
<text x="541.70" y="820.20" font-size="9.6" text-anchor="middle">P&lt;0.01</text>
<text x="570.50" y="850.20" font-size="9.6" text-anchor="middle">P&lt;0.05</text>
<text x="595.80" y="815.50" font-size="9.6" text-anchor="middle">P&lt;0.01</text>
<text x="629.00" y="840.80" font-size="9.6" text-anchor="middle">P&lt;0.05</text>
<text x="516.80" y="775.10" font-size="12.6" text-anchor="middle">5637</text>
<text x="379.20" y="856.20" font-size="12.8" text-anchor="middle" transform="rotate(-90 379.20 856.20)">OD value (490 nm)</text>
<rect x="70.20" y="955.80" width="18.50" height="7.70" fill="#ffffff" stroke="#222" stroke-width="1.0"/>
<text x="94.40" y="963.30" font-size="11.5">Lv-MFSD12</text>
<rect x="181.30" y="955.80" width="18.50" height="7.70" fill="#cfe3f8" stroke="#222" stroke-width="1.0"/>
<text x="207.20" y="963.30" font-size="11.5">Lv-MFSD12+DOX</text>
<rect x="70.20" y="971.20" width="18.50" height="7.70" fill="#9ec8f4" stroke="#222" stroke-width="1.0"/>
<text x="94.40" y="978.70" font-size="11.5">Lv-shMFSD12</text>
<rect x="181.30" y="971.20" width="18.50" height="7.70" fill="#2b4e9f" stroke="#222" stroke-width="1.0"/>
<text x="207.20" y="978.70" font-size="11.5">Lv-shMFSD12+DOX</text>
<rect x="386.20" y="951.60" width="18.50" height="7.70" fill="#ffffff" stroke="#222" stroke-width="1.0"/>
<text x="410.80" y="959.10" font-size="11.5">Lv-MFSD12</text>
<rect x="497.10" y="951.60" width="18.50" height="7.70" fill="#cfe3f8" stroke="#222" stroke-width="1.0"/>
<text x="523.30" y="959.10" font-size="11.5">Lv-MFSD12+DOX</text>
<rect x="386.20" y="966.80" width="18.50" height="7.70" fill="#9ec8f4" stroke="#222" stroke-width="1.0"/>
<text x="410.80" y="974.30" font-size="11.5">Lv-shMFSD12</text>
<rect x="497.10" y="966.80" width="18.50" height="7.70" fill="#2b4e9f" stroke="#222" stroke-width="1.0"/>
<text x="523.30" y="974.30" font-size="11.5">Lv-shMFSD12+DOX</text>
</svg>
</body></html>
